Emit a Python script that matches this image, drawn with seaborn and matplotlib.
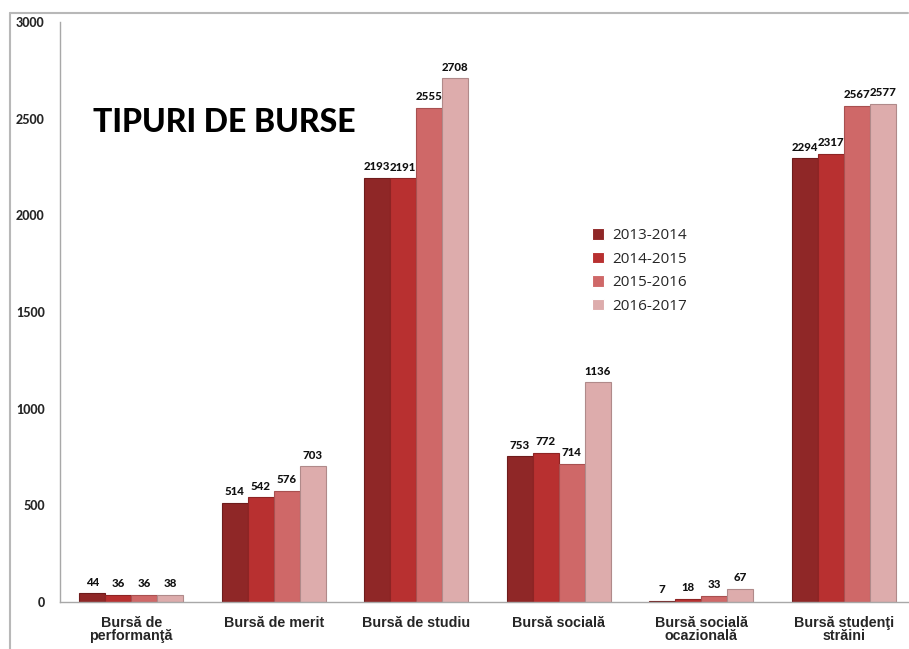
import matplotlib
matplotlib.use("Agg")
import matplotlib.pyplot as plt
import seaborn as sns
import pandas as pd
from matplotlib.lines import Line2D

# Data
categories = ["Bursă de\nperformanţă", "Bursă de merit", "Bursă de studiu",
              "Bursă socială", "Bursă socială\nocazională", "Bursă studenţi\nstrăini"]
years = ["2013-2014", "2014-2015", "2015-2016", "2016-2017"]
v_2013 = [44, 514, 2193, 753, 7, 2294]
v_2014 = [36, 542, 2191, 772, 18, 2317]
v_2015 = [36, 576, 2555, 714, 33, 2567]
v_2016 = [38, 703, 2708, 1136, 67, 2577]
yticks = [0, 500, 1000, 1500, 2000, 2500, 3000]

colors = ["#8f2727", "#b83030", "#cf6868", "#ddacac"]
edges = ["#6e1c1c", "#8e2424", "#a85050", "#b08a8a"]

rows = []
for year, vals in zip(years, [v_2013, v_2014, v_2015, v_2016]):
    for cat, v in zip(categories, vals):
        rows.append({"category": cat, "year": year, "value": v})
df = pd.DataFrame(rows)

sns.set_style("white")
plt.rcParams["font.family"] = ["Lato", "DejaVu Sans"]

fig = plt.figure(figsize=(9.09, 6.49), dpi=100)
ax = fig.add_axes([60 / 909, 1 - 602 / 649, 855 / 909, 580 / 649])

sns.barplot(data=df, x="category", y="value", hue="year", hue_order=years,
            order=categories, palette=colors, width=0.73, gap=0, ax=ax,
            saturation=1, errorbar=None, linewidth=0.8)

# darker outline per series, and value labels
for i, cont in enumerate(ax.containers):
    for bar in cont:
        bar.set_edgecolor(edges[i])
    ax.bar_label(cont, fmt="%d", padding=4, fontsize=8.3, fontweight="black",
                 color="#111111")

ax.set_ylim(0, 3000)
ax.set_xlim(-0.5, 5.5)
ax.set_yticks(yticks)
ax.set_yticklabels([str(t) for t in yticks], fontsize=9, fontweight="black")
ax.set_xlabel("")
ax.set_ylabel("")

# category labels without major ticks; separators as minor ticks
ax.set_xticks(range(len(categories)))
ax.set_xticklabels(categories, fontsize=10.3, fontweight="bold",
                   family=["Liberation Sans", "DejaVu Sans"], linespacing=0.95)
ax.tick_params(axis="x", which="major", length=0, pad=10)
ax.set_xticks([i - 0.5 for i in range(len(categories) + 1)], minor=True)
ax.tick_params(axis="x", which="minor", length=5, color="#a0a0a0", direction="out")
ax.tick_params(axis="y", length=5, color="#a0a0a0", direction="out", pad=6)

for side in ["top", "right"]:
    ax.spines[side].set_visible(False)
for side in ["left", "bottom"]:
    ax.spines[side].set_color("#a8a8a8")
    ax.spines[side].set_linewidth(1.0)

# title inside the plot area
fig.text(93 / 909, 1 - 122 / 649, "TIPURI DE BURSE", fontsize=23,
         fontweight="black", va="center", ha="left", color="#000000")

leg = ax.legend(loc="upper left", bbox_to_anchor=(586 / 909, 1 - 222 / 649),
                bbox_transform=fig.transFigure, frameon=False, fontsize=11,
                handlelength=0.8, handleheight=0.8, handletextpad=0.5,
                labelspacing=0.55, borderaxespad=0)
for t in leg.get_texts():
    t.set_family(["Open Sans", "DejaVu Sans"])

# outer chart frame (top and left edges visible)
fig.add_artist(Line2D([10 / 909, 908 / 909], [1 - 12.5 / 649, 1 - 12.5 / 649],
                      transform=fig.transFigure, color="#b8b8b8", lw=1.5))
fig.add_artist(Line2D([10 / 909, 10 / 909], [1 - 12.5 / 649, 0],
                      transform=fig.transFigure, color="#b8b8b8", lw=1.5))

fig.savefig("out.png", dpi=100)
